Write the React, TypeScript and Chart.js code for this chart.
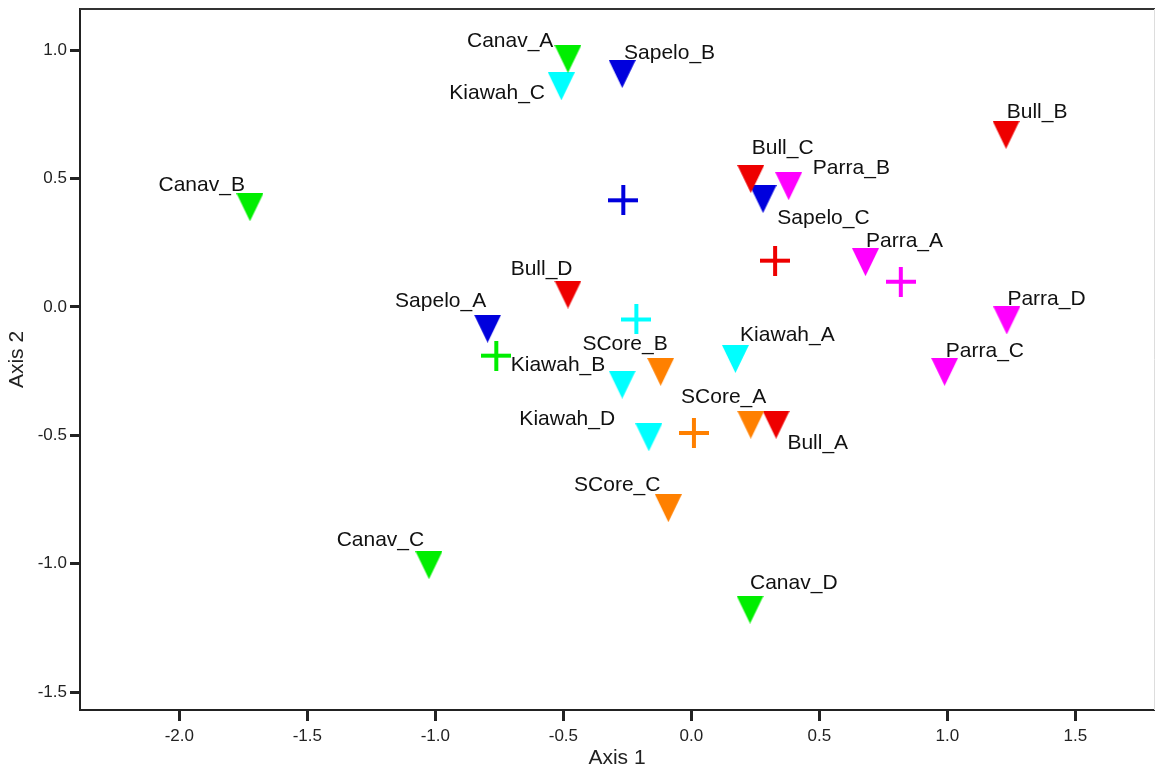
import React, { useEffect, useRef } from 'react';
import { Chart, registerables } from 'chart.js';

Chart.register(...registerables);

// ---- axis ticks ----
const tickValuesX = [-2.0, -1.5, -1.0, -0.5, 0.0, 0.5, 1.0, 1.5];
const tickValuesY = [-1.5, -1.0, -0.5, 0.0, 0.5, 1.0];
const xMin = -2.388;
const xMax = 1.807;
const yMin = -1.570;
const yMax = 1.160;

// ---- sample points (Axis 1, Axis 2) ----
const canavNames = ['Canav_A', 'Canav_B', 'Canav_C', 'Canav_D'];
const canavX = [-0.482, -1.724, -1.025, 0.229];
const canavY = [0.966, 0.388, -1.006, -1.179];

const kiawahNames = ['Kiawah_A', 'Kiawah_B', 'Kiawah_C', 'Kiawah_D'];
const kiawahX = [0.172, -0.270, -0.508, -0.166];
const kiawahY = [-0.203, -0.303, 0.859, -0.508];

const scoreNames = ['SCore_A', 'SCore_B', 'SCore_C'];
const scoreX = [0.232, -0.120, -0.090];
const scoreY = [-0.459, -0.253, -0.784];

const bullNames = ['Bull_A', 'Bull_B', 'Bull_C', 'Bull_D'];
const bullX = [0.331, 1.229, 0.232, -0.482];
const bullY = [-0.459, 0.670, 0.498, 0.048];

const sapeloNames = ['Sapelo_A', 'Sapelo_B', 'Sapelo_C'];
const sapeloX = [-0.796, -0.270, 0.280];
const sapeloY = [-0.085, 0.907, 0.420];

const parraNames = ['Parra_A', 'Parra_B', 'Parra_C', 'Parra_D'];
const parraX = [0.680, 0.380, 0.989, 1.232];
const parraY = [0.174, 0.470, -0.253, -0.053];

// group centroids (plus markers): Canav, Kiawah, SCore, Bull, Sapelo, Parra
const centroidX = [-0.762, -0.215, 0.010, 0.327, -0.266, 0.818];
const centroidY = [-0.190, -0.049, -0.491, 0.180, 0.415, 0.098];

// ---- styles ----
const colCanav = '#00ee00';
const colKiawah = '#00ffff';
const colScore = '#ff8000';
const colBull = '#ee0000';
const colSapelo = '#0000dd';
const colParra = '#ff00ff';
const centroidColors = [colCanav, colKiawah, colScore, colBull, colSapelo, colParra];

// label offsets in px: [dx to text left, dy to baseline]
const canavLabelOffsets = [[-101, -12], [-91.5, -16], [-92.3, -19], [0, -21]];
const kiawahLabelOffsets = [[4.7, -17.5], [-111.5, -13.2], [-112, 12.8], [-129.5, -12.7]];
const scoreLabelOffsets = [[-69.7, -21.5], [-78.2, -22], [-94.3, -16.8]];
const bullLabelOffsets = [[11.3, 24], [0.7, -17], [1, -24.5], [-57.3, -20]];
const sapeloLabelOffsets = [[-92.5, -21.5], [1.8, -14.5], [14.3, 24.8]];
const parraLabelOffsets = [[0.5, -15], [24.2, -12.5], [1.2, -15.2], [0.6, -15]];

const FONT = "'Liberation Sans', Arial, Helvetica, sans-serif";

function makeTriangle(color: string): HTMLCanvasElement {
  const c = document.createElement('canvas');
  c.width = 27;
  c.height = 28;
  const ctx = c.getContext('2d')!;
  ctx.fillStyle = color;
  ctx.beginPath();
  ctx.moveTo(0, 0);
  ctx.lineTo(27, 0);
  ctx.lineTo(13.5, 28);
  ctx.closePath();
  ctx.fill();
  return c;
}

function makePlus(color: string): HTMLCanvasElement {
  const c = document.createElement('canvas');
  c.width = 30;
  c.height = 30;
  const ctx = c.getContext('2d')!;
  ctx.fillStyle = color;
  ctx.fillRect(0, 13, 30, 4);
  ctx.fillRect(13, 0, 4, 30);
  return c;
}

function groupDataset(names: string[], xs: number[], ys: number[], color: string, offsets: number[][]) {
  return {
    label: names[0].split('_')[0],
    data: xs.map((x, i) => ({ x, y: ys[i] })),
    pointStyle: makeTriangle(color),
    pointRadius: 14,
    backgroundColor: color,
    borderColor: color,
    showLine: false,
    names,
    offsets,
  } as any;
}

const labelPlugin = {
  id: 'pointLabels',
  afterDatasetsDraw(chart: any) {
    const ctx = chart.ctx;
    ctx.save();
    ctx.font = `21px ${FONT}`;
    ctx.fillStyle = '#111';
    ctx.textAlign = 'left';
    ctx.textBaseline = 'alphabetic';
    chart.data.datasets.forEach((ds: any, di: number) => {
      if (!ds.names) return;
      const meta = chart.getDatasetMeta(di);
      meta.data.forEach((el: any, i: number) => {
        const off = ds.offsets[i];
        ctx.fillText(ds.names[i], el.x + off[0], el.y + off[1]);
      });
    });
    ctx.restore();
  },
};

const framePlugin = {
  id: 'frame',
  beforeDatasetsDraw(chart: any) {
    const { ctx, chartArea } = chart;
    ctx.save();
    ctx.strokeStyle = '#333';
    ctx.lineWidth = 2;
    ctx.beginPath();
    ctx.moveTo(chartArea.left, chartArea.top);
    ctx.lineTo(chart.width, chartArea.top);
    ctx.stroke();
    ctx.strokeStyle = '#dddddd';
    ctx.lineWidth = 1;
    ctx.beginPath();
    ctx.moveTo(chartArea.right + 0.5, chartArea.top);
    ctx.lineTo(chartArea.right + 0.5, chartArea.bottom);
    ctx.stroke();
    ctx.restore();
  },
};

function zeroPadding(s: any) {
  s.paddingLeft = 0;
  s.paddingRight = 0;
  s.paddingTop = 0;
  s.paddingBottom = 0;
}

export default function App() {
  const ref = useRef<HTMLCanvasElement | null>(null);

  useEffect(() => {
    if (!ref.current) return;
    const datasets: any[] = [
      groupDataset(canavNames, canavX, canavY, colCanav, canavLabelOffsets),
      groupDataset(kiawahNames, kiawahX, kiawahY, colKiawah, kiawahLabelOffsets),
      groupDataset(scoreNames, scoreX, scoreY, colScore, scoreLabelOffsets),
      groupDataset(bullNames, bullX, bullY, colBull, bullLabelOffsets),
      groupDataset(sapeloNames, sapeloX, sapeloY, colSapelo, sapeloLabelOffsets),
      groupDataset(parraNames, parraX, parraY, colParra, parraLabelOffsets),
      {
        label: 'Centroids',
        data: centroidX.map((x, i) => ({ x, y: centroidY[i] })),
        pointStyle: centroidColors.map((c) => makePlus(c)),
        pointRadius: 15,
        showLine: false,
      },
    ];

    const chart = new Chart(ref.current, {
      type: 'scatter',
      data: { datasets },
      plugins: [framePlugin, labelPlugin],
      options: {
        animation: false,
        responsive: false,
        events: [],
        layout: { autoPadding: false, padding: { top: 9, right: 1, left: 0, bottom: 0 } },
        plugins: {
          legend: { display: false },
          tooltip: { enabled: false },
        },
        scales: {
          x: {
            type: 'linear',
            position: 'bottom',
            min: xMin,
            max: xMax,
            afterBuildTicks: (s: any) => {
              s.ticks = tickValuesX.map((v) => ({ value: v }));
            },
            afterFit: (s: any) => {
              s.height = 61;
              zeroPadding(s);
            },
            grid: {
              drawOnChartArea: false,
              drawTicks: true,
              tickLength: 11,
              tickWidth: 3,
              tickColor: '#222',
            },
            border: { display: true, color: '#222', width: 2 },
            ticks: {
              autoSkip: false,
              maxRotation: 0,
              padding: 5,
              color: '#222',
              font: { family: FONT, size: 17 },
              callback: (v: any) => Number(v).toFixed(1),
            },
            title: {
              display: true,
              text: 'Axis 1',
              color: '#222',
              font: { family: FONT, size: 21 },
              padding: { top: 0, bottom: 0 },
            },
          },
          y: {
            type: 'linear',
            position: 'left',
            min: yMin,
            max: yMax,
            afterBuildTicks: (s: any) => {
              s.ticks = tickValuesY.map((v) => ({ value: v }));
            },
            afterFit: (s: any) => {
              s.width = 80;
              zeroPadding(s);
            },
            grid: {
              drawOnChartArea: false,
              drawTicks: true,
              tickLength: 10,
              tickWidth: 3,
              tickColor: '#222',
            },
            border: { display: true, color: '#222', width: 2 },
            ticks: {
              autoSkip: false,
              padding: 3,
              color: '#222',
              font: { family: FONT, size: 17 },
              callback: (v: any) => Number(v).toFixed(1),
            },
            title: {
              display: true,
              text: 'Axis 2',
              color: '#222',
              font: { family: FONT, size: 21 },
              padding: { top: 5, bottom: 0 },
            },
          },
        },
      },
    } as any);

    return () => chart.destroy();
  }, []);

  return (
    <div style={{ position: 'fixed', left: 0, top: 0, width: 1155, height: 771, background: '#fff' }}>
      <canvas ref={ref} width={1155} height={771} style={{ width: 1155, height: 771, display: 'block' }} />
    </div>
  );
}
